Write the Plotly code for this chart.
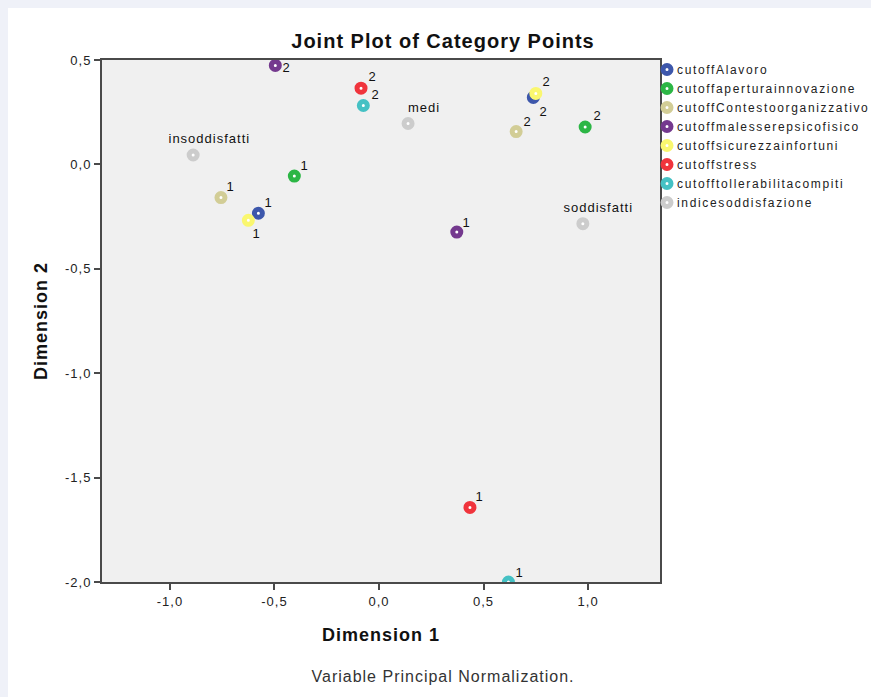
import plotly.graph_objects as go

# ---- data ----
series_names = ["cutoffAlavoro", "cutoffaperturainnovazione", "cutoffContestoorganizzativo",
                "cutoffmalesserepsicofisico", "cutoffsicurezzainfortuni", "cutoffstress",
                "cutofftollerabilitacompiti", "indicesoddisfazione"]
series_colors = ["#3D57AB", "#2CB645", "#D2CD96", "#74398E", "#FAF76F", "#F0343C", "#45C1C4", "#CCCCCC"]

cat_Alavoro = ["1", "2"]
dim1_Alavoro = [-0.577, 0.738]
dim2_Alavoro = [-0.234, 0.321]

cat_apertura = ["1", "2"]
dim1_apertura = [-0.405, 0.986]
dim2_apertura = [-0.056, 0.179]

cat_contesto = ["1", "2"]
dim1_contesto = [-0.756, 0.656]
dim2_contesto = [-0.159, 0.157]

cat_malessere = ["1", "2"]
dim1_malessere = [0.372, -0.496]
dim2_malessere = [-0.324, 0.474]

cat_sicurezza = ["1", "2"]
dim1_sicurezza = [-0.625, 0.750]
dim2_sicurezza = [-0.268, 0.340]

cat_stress = ["1", "2"]
dim1_stress = [0.435, -0.086]
dim2_stress = [-1.643, 0.365]

cat_toller = ["1", "2"]
dim1_toller = [0.619, -0.075]
dim2_toller = [-2.0, 0.282]

cat_indice = ["insoddisfatti", "medi", "soddisfatti"]
dim1_indice = [-0.889, 0.139, 0.975]
dim2_indice = [0.045, 0.196, -0.284]

x_ticks = [-1.0, -0.5, 0.0, 0.5, 1.0]
x_ticklabels = ["-1,0", "-0,5", "0,0", "0,5", "1,0"]
y_ticks = [-2.0, -1.5, -1.0, -0.5, 0.0, 0.5]
y_ticklabels = ["-2,0", "-1,5", "-1,0", "-0,5", "0,0", "0,5"]

all_cats = [cat_Alavoro, cat_apertura, cat_contesto, cat_malessere, cat_sicurezza, cat_stress, cat_toller, cat_indice]
all_x = [dim1_Alavoro, dim1_apertura, dim1_contesto, dim1_malessere, dim1_sicurezza, dim1_stress, dim1_toller, dim1_indice]
all_y = [dim2_Alavoro, dim2_apertura, dim2_contesto, dim2_malessere, dim2_sicurezza, dim2_stress, dim2_toller, dim2_indice]

# label pixel offsets (styling only): (dx right, dy up)
label_shift = [
    [(10, 11), (10, -14)],
    [(10, 11), (12, 12)],
    [(10, 11), (11, 10)],
    [(10, 10), (11, -2)],
    [(8, -13), (11, 12)],
    [(10, 11), (11, 12)],
    [(11, 10), (12, 11)],
    [(16, 17), (16, 16), (16, 16)],
]

FONT = "Liberation Sans, Arial, sans-serif"

fig = go.Figure()
for name, col, cats, xs, ys, shifts in zip(series_names, series_colors, all_cats, all_x, all_y, label_shift):
    fig.add_trace(go.Scatter(
        x=xs, y=ys, mode="markers", name=name,
        marker=dict(size=8, color="white", line=dict(color=col, width=5)),
        cliponaxis=True, hoverinfo="name+text", text=cats,
    ))
    for c, xv, yv, (dx, dy) in zip(cats, xs, ys, shifts):
        fig.add_annotation(x=xv, y=yv, xref="x", yref="y", text=c, showarrow=False,
                           xanchor="center", yanchor="middle", xshift=dx, yshift=dy,
                           font=dict(family=FONT, size=13, color="#111111"))

fig.update_layout(
    width=871, height=697,
    margin=dict(l=102, r=211, t=60, b=115),
    paper_bgcolor="white",
    plot_bgcolor="#F0F0F0",
    font=dict(family=FONT, size=13, color="#222222"),
    title=dict(text="<b>Joint Plot of Category Points</b>", x=443/871, xanchor="center",
               y=1 - 41/697, yanchor="middle",
               font=dict(size=20, color="#111111", family=FONT)),
    showlegend=True,
    legend=dict(x=(647 - 102) / 558, xanchor="left", y=(582 - 55) / 522, yanchor="top",
                bgcolor="rgba(0,0,0,0)",
                font=dict(size=12, color="#222222", family=FONT), itemsizing="trace",
                tracegroupgap=0, borderwidth=0),
    xaxis=dict(range=[-1.325, 1.344], tickvals=x_ticks, ticktext=x_ticklabels,
               showgrid=False, zeroline=False, showline=True, linecolor="#4A4A4A", linewidth=2,
               mirror=True, ticks="outside", ticklen=6, tickcolor="#4A4A4A", tickwidth=2,
               tickfont=dict(size=13, color="#222222"),
               title=dict(text="<b>Dimension 1</b>", font=dict(size=18, color="#111111"), standoff=21)),
    yaxis=dict(range=[-2.0, 0.5], tickvals=y_ticks, ticktext=y_ticklabels,
               showgrid=False, zeroline=False, showline=True, linecolor="#4A4A4A", linewidth=2,
               mirror=True, ticks="outside", ticklen=6, tickcolor="#4A4A4A", tickwidth=2,
               tickfont=dict(size=13, color="#222222"),
               title=dict(text="<b>Dimension 2</b>", font=dict(size=18, color="#111111"), standoff=17)),
)

# light outer frame strips (left and top)
fig.add_shape(type="rect", xref="paper", yref="paper", x0=-102/558, x1=-94/558,
              y0=(582 - 697)/522, y1=582/522, fillcolor="#EFF1F8", line=dict(width=0), layer="below")
fig.add_shape(type="rect", xref="paper", yref="paper", x0=-102/558, x1=(871 - 102)/558,
              y0=(582 - 8)/522, y1=582/522, fillcolor="#EFF1F8", line=dict(width=0), layer="below")

fig.add_annotation(text="Variable Principal Normalization.", xref="paper", yref="paper",
                   x=(443 - 102) / 558, y=(582 - 676) / 522, showarrow=False,
                   xanchor="center", yanchor="middle",
                   font=dict(size=16, color="#333333"))

post = """
var st = document.createElement('style');
st.innerHTML = 'html, body { margin: 0; padding: 0; background: #ffffff; overflow: hidden; } '
  + 'svg text { letter-spacing: 1px; } '
  + 'text.legendtext { letter-spacing: 1.65px; } '
  + '.legend text.legendtext { transform: translateX(-10px); } '
  + '.legend .scrollbox, .legend g { clip-path: none !important; }';
document.head.appendChild(st);
var sb = document.querySelectorAll('.legend .scrollbox, .legend [clip-path]');
for (var i = 0; i < sb.length; i++) { sb[i].removeAttribute('clip-path'); }
"""

fig.write_html("out.html", post_script=post, config={"displayModeBar": False})
